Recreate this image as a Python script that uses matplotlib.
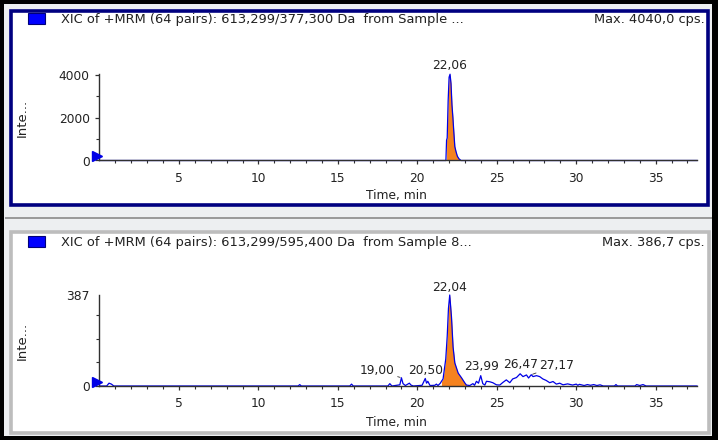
import matplotlib
matplotlib.use("Agg")
import matplotlib.pyplot as plt
from matplotlib.patches import Rectangle
from matplotlib import transforms

# ---------------- data ----------------
top_title = "XIC of +MRM (64 pairs): 613,299/377,300 Da  from Sample ..."
top_max = "Max. 4040,0 cps."
top_t = [0.0, 21.80, 21.84, 21.88, 21.94, 22.00, 22.06, 22.12, 22.18, 22.24,
         22.30, 22.36, 22.44, 22.52, 22.62, 22.75, 37.6]
top_i = [0, 0, 950, 1050, 2800, 3900, 4040, 3600, 2600, 2000,
         1300, 650, 400, 200, 80, 0, 0]
top_fill_range = (21.84, 22.62)
top_peak_labels = ["22,06"]
top_peak_t = [22.06]
top_peak_i = [4040]

bot_title = "XIC of +MRM (64 pairs): 613,299/595,400 Da  from Sample 8..."
bot_max = "Max. 386,7 cps."
bot_t = [0.0, 0.45, 0.6, 0.75, 0.9, 12.5, 12.6, 12.7, 15.75, 15.86, 15.97,
         18.15, 18.27, 18.4, 18.9, 19.0, 19.1, 19.25, 19.5, 19.6, 19.75,
         20.3, 20.5, 20.58, 20.66, 20.8, 21.1, 21.2, 21.3, 21.45, 21.52,
         21.62, 21.79, 21.88, 21.96, 22.04, 22.15, 22.25, 22.36, 22.57,
         22.78, 22.99, 23.09, 23.3, 23.5, 23.6, 23.72, 23.85, 23.99, 24.12,
         24.25, 24.35, 24.56, 24.75, 24.98, 25.19, 25.38, 25.6, 25.82, 26.0,
         26.24, 26.47, 26.65, 26.87, 27.0, 27.17, 27.28, 27.5, 27.7, 27.9,
         28.1, 28.33, 28.54, 28.75, 28.96, 29.17, 29.46, 29.77, 30.0, 30.1,
         30.2, 30.5, 30.7, 30.9, 31.1, 31.3, 31.5, 31.7, 32.4, 32.5, 32.6,
         33.7, 33.8, 34.0, 34.2, 34.4, 37.6]
bot_i = [0, 0, 12, 8, 0, 0, 6, 0, 0, 8, 0,
         0, 10, 0, 5, 35, 10, 2, 12, 4, 0,
         3, 32, 12, 20, 2, 3, 8, 2, 12, 20,
         30, 115, 210, 330, 387, 293, 166, 98, 55,
         35, 13, 4, 2, 10, 3, 20, 12, 44, 10,
         4, 20, 18, 14, 5, 4, 15, 26, 14, 30,
         36, 52, 40, 47, 34, 48, 40, 44, 40, 30,
         24, 14, 19, 8, 12, 5, 9, 4, 8, 3,
         7, 2, 6, 3, 6, 2, 5, 0, 0, 6, 0,
         0, 6, 2, 6, 0, 0]
bot_fill_range = (21.52, 23.09)
bot_peak_labels = ["19,00", "20,50", "22,04", "23,99", "26,47", "27,17"]
bot_peak_t = [19.00, 20.50, 22.04, 23.99, 26.47, 27.17]
bot_peak_i = [35, 32, 387, 44, 52, 48]

x_major = [5, 10, 15, 20, 25, 30, 35]
xlim = (0, 37.6)

# ---------------- styling ----------------
W, H = 718, 440
DPI = 100
plt.rcParams['font.family'] = ['DejaVu Sans']
BLUE = '#0000E6'
ORANGE = '#F5821F'
TXT = '#222222'
FS = 8.8
FS_TITLE = 9.4

fig = plt.figure(figsize=(W / DPI, H / DPI), dpi=DPI, facecolor='black')


def fx(px):
    return px / W


def fy(py):
    return 1 - py / H


def rect(x0, y0, x1, y1, fc, ec=None, lw=0, z=-5):
    r = Rectangle((fx(x0), fy(y1)), fx(x1) - fx(x0), fy(y0) - fy(y1),
                  transform=fig.transFigure, facecolor=fc,
                  edgecolor=ec if ec else fc, linewidth=lw, zorder=z)
    fig.patches.append(r)


# background frames
rect(4, 4, 712, 436, '#EDEFF1', z=-10)
rect(10.5, 11.5, 707.5, 205, 'white', '#000080', 2.6, -9)
rect(5, 217, 712, 219.5, '#9A9A9A', z=-9)
rect(10.5, 232, 709, 432.5, 'white', '#BDBDBD', 2.6, -9)

AX_L, AX_R = 99.5, 697


def make_axes(y_top, y_zero):
    ax = fig.add_axes([fx(AX_L), fy(y_zero), fx(AX_R) - fx(AX_L),
                       fy(y_top) - fy(y_zero)])
    ax.set_facecolor('none')
    for s in ['top', 'right']:
        ax.spines[s].set_visible(False)
    for s in ['left', 'bottom']:
        ax.spines[s].set_color('#303030')
        ax.spines[s].set_linewidth(1.0)
        ax.spines[s].set_zorder(4)
    ax.set_xlim(*xlim)
    ax.set_xticks(x_major)
    ax.set_xticks(range(1, 38), minor=True)
    ax.tick_params(axis='both', which='major', length=3, width=0.9,
                   color='#303030', labelsize=FS, labelcolor=TXT, pad=4)
    ax.tick_params(axis='both', which='minor', length=2.2, width=0.8,
                   color='#303030')
    ax.tick_params(axis='x', pad=5)
    return ax


def header(y, title, maxtxt):
    rect(28, y - 5.5, 45, y + 5.5, '#0000FF', '#00007A', 0.8, -1)
    fig.text(fx(61), fy(y), title, fontsize=FS_TITLE, color=TXT, va='center',
             ha='left')
    fig.text(fx(705), fy(y), maxtxt, fontsize=FS_TITLE, color=TXT,
             va='center', ha='right')


def trace(ax, t, i, frange):
    tt = [a for a in t if frange[0] <= a <= frange[1]]
    ii = [b for a, b in zip(t, i) if frange[0] <= a <= frange[1]]
    ax.fill_between(tt, 0, ii, color=ORANGE, linewidth=0, zorder=2)
    ax.plot(t, i, color=BLUE, lw=0.9, zorder=3, clip_on=False)
    off = transforms.offset_copy(ax.transData, fig=fig, x=-2.5, y=4.5,
                                 units='dots')
    ax.plot([0], [0], marker='>', color=BLUE, markersize=6.5, transform=off,
            clip_on=False, zorder=5, linestyle='none')


# ---------------- top panel ----------------
header(19, top_title, top_max)
ax1 = make_axes(74.2, 160.5)
ax1.set_ylim(0, 4040)
ax1.set_yticks([0, 2000, 4000])
ax1.set_yticks([1000, 3000], minor=True)
trace(ax1, top_t, top_i, top_fill_range)
for lab, t, v in zip(top_peak_labels, top_peak_t, top_peak_i):
    ax1.annotate(lab, (t, v), xytext=(0, 9), textcoords='offset pixels',
                 ha='center', va='center', fontsize=FS, color=TXT)
fig.text(fx(396), fy(195), "Time, min", fontsize=FS, color=TXT,
         ha='center', va='center')
fig.text(fx(22), fy(118), "Inte...", fontsize=9.5, color=TXT, rotation=90,
         ha='center', va='center')

# ---------------- bottom panel ----------------
header(242, bot_title, bot_max)
ax2 = make_axes(295, 386)
ax2.set_ylim(0, 387)
ax2.set_yticks([0, 387])
ax2.set_yticks([100, 200, 300], minor=True)
ax2.yaxis.get_major_ticks()[1].tick1line.set_visible(False)
trace(ax2, bot_t, bot_i, bot_fill_range)
bot_offsets = [(-24, 7), (0, 8), (0, 8), (1, 9), (0, 9), (25, 9)]
for lab, t, v, (ox, oy) in zip(bot_peak_labels, bot_peak_t, bot_peak_i,
                               bot_offsets):
    kw = {}
    if abs(ox) > 10:
        kw['arrowprops'] = dict(arrowstyle='-', color='#303030', lw=0.6,
                                shrinkA=0, shrinkB=1)
    ax2.annotate(lab, (t, v), xytext=(ox, oy), textcoords='offset pixels',
                 ha='center', va='center', fontsize=FS, color=TXT, **kw)
fig.text(fx(396), fy(422), "Time, min", fontsize=FS, color=TXT,
         ha='center', va='center')
fig.text(fx(22), fy(341), "Inte...", fontsize=9.5, color=TXT, rotation=90,
         ha='center', va='center')

fig.savefig("out.png", dpi=DPI, facecolor='black')
